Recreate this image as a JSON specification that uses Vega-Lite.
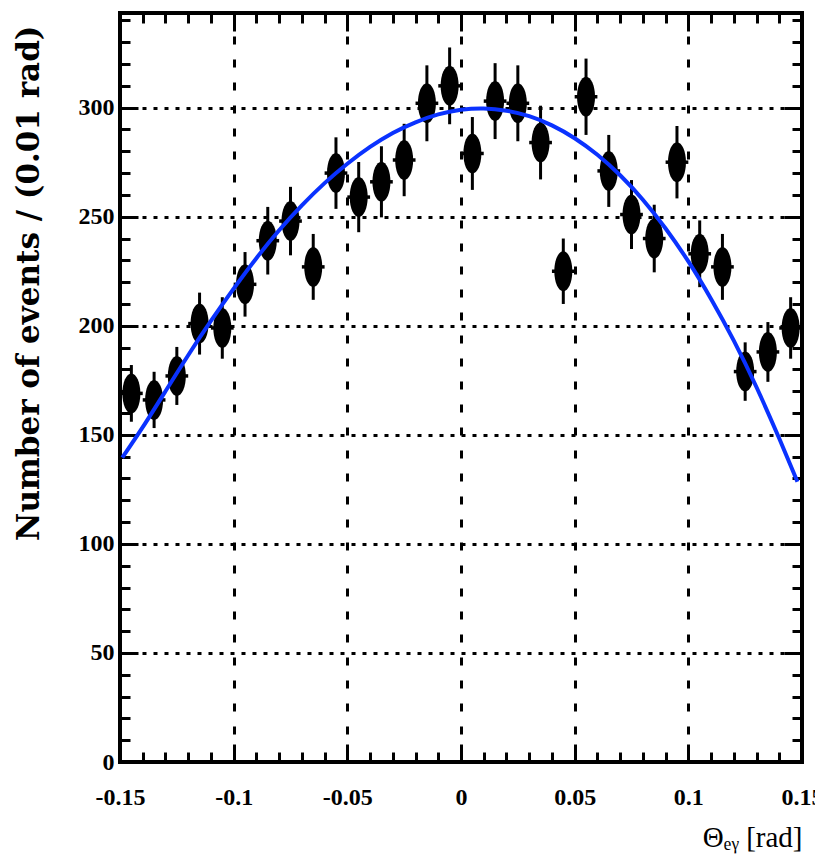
{
  "$schema": "https://vega.github.io/schema/vega-lite/v6.json",
  "width": 682,
  "height": 749,
  "autosize": {"type": "none"},
  "padding": {"left": 120, "top": 13, "right": 13, "bottom": 104},
  "background": "white",
  "config": {
    "view": {"stroke": "black", "strokeWidth": 4},
    "axis": {
      "domain": false,
      "tickColor": "black",
      "tickWidth": 3,
      "labelFont": "Liberation Serif",
      "labelFontWeight": "bold",
      "labelFontSize": 24,
      "labelColor": "black",
      "labelFlush": false,
      "labelOverlap": false,
      "labelBound": false,
      "gridColor": "black",
      "gridWidth": 3,
      "titleColor": "black"
    }
  },
  "datasets": {
    "hist": [
      {"theta": -0.145, "lo": -0.15, "hi": -0.14, "n": 169, "err": 13.0},
      {"theta": -0.135, "lo": -0.14, "hi": -0.13, "n": 166, "err": 12.9},
      {"theta": -0.125, "lo": -0.13, "hi": -0.12, "n": 177, "err": 13.3},
      {"theta": -0.115, "lo": -0.12, "hi": -0.11, "n": 201, "err": 14.2},
      {"theta": -0.105, "lo": -0.11, "hi": -0.10, "n": 199, "err": 14.1},
      {"theta": -0.095, "lo": -0.10, "hi": -0.09, "n": 219, "err": 14.8},
      {"theta": -0.085, "lo": -0.09, "hi": -0.08, "n": 239, "err": 15.5},
      {"theta": -0.075, "lo": -0.08, "hi": -0.07, "n": 248, "err": 15.7},
      {"theta": -0.065, "lo": -0.07, "hi": -0.06, "n": 227, "err": 15.1},
      {"theta": -0.055, "lo": -0.06, "hi": -0.05, "n": 270, "err": 16.4},
      {"theta": -0.045, "lo": -0.05, "hi": -0.04, "n": 259, "err": 16.1},
      {"theta": -0.035, "lo": -0.04, "hi": -0.03, "n": 266, "err": 16.3},
      {"theta": -0.025, "lo": -0.03, "hi": -0.02, "n": 276, "err": 16.6},
      {"theta": -0.015, "lo": -0.02, "hi": -0.01, "n": 302, "err": 17.4},
      {"theta": -0.005, "lo": -0.01, "hi": 0.0, "n": 310, "err": 17.6},
      {"theta": 0.005, "lo": 0.0, "hi": 0.01, "n": 279, "err": 16.7},
      {"theta": 0.015, "lo": 0.01, "hi": 0.02, "n": 303, "err": 17.4},
      {"theta": 0.025, "lo": 0.02, "hi": 0.03, "n": 302, "err": 17.4},
      {"theta": 0.035, "lo": 0.03, "hi": 0.04, "n": 284, "err": 16.9},
      {"theta": 0.045, "lo": 0.04, "hi": 0.05, "n": 225, "err": 15.0},
      {"theta": 0.055, "lo": 0.05, "hi": 0.06, "n": 305, "err": 17.5},
      {"theta": 0.065, "lo": 0.06, "hi": 0.07, "n": 271, "err": 16.5},
      {"theta": 0.075, "lo": 0.07, "hi": 0.08, "n": 251, "err": 15.8},
      {"theta": 0.085, "lo": 0.08, "hi": 0.09, "n": 240, "err": 15.5},
      {"theta": 0.095, "lo": 0.09, "hi": 0.10, "n": 275, "err": 16.6},
      {"theta": 0.105, "lo": 0.10, "hi": 0.11, "n": 233, "err": 15.3},
      {"theta": 0.115, "lo": 0.11, "hi": 0.12, "n": 227, "err": 15.1},
      {"theta": 0.125, "lo": 0.12, "hi": 0.13, "n": 179, "err": 13.4},
      {"theta": 0.135, "lo": 0.13, "hi": 0.14, "n": 188, "err": 13.7},
      {"theta": 0.145, "lo": 0.14, "hi": 0.15, "n": 199, "err": 14.1}
    ],
    "fit": [
      {"theta": -0.149, "f": 139.5},
      {"theta": -0.14, "f": 153.5},
      {"theta": -0.13, "f": 170.0},
      {"theta": -0.12, "f": 186.5},
      {"theta": -0.11, "f": 202.2},
      {"theta": -0.10, "f": 217.0},
      {"theta": -0.09, "f": 231.0},
      {"theta": -0.08, "f": 243.8},
      {"theta": -0.07, "f": 255.2},
      {"theta": -0.06, "f": 265.4},
      {"theta": -0.05, "f": 274.3},
      {"theta": -0.04, "f": 282.0},
      {"theta": -0.03, "f": 288.4},
      {"theta": -0.02, "f": 293.3},
      {"theta": -0.01, "f": 296.9},
      {"theta": 0.0, "f": 299.0},
      {"theta": 0.01, "f": 299.6},
      {"theta": 0.02, "f": 298.6},
      {"theta": 0.03, "f": 296.1},
      {"theta": 0.04, "f": 291.9},
      {"theta": 0.05, "f": 286.0},
      {"theta": 0.06, "f": 278.4},
      {"theta": 0.07, "f": 269.0},
      {"theta": 0.08, "f": 257.8},
      {"theta": 0.09, "f": 244.6},
      {"theta": 0.10, "f": 229.5},
      {"theta": 0.11, "f": 212.3},
      {"theta": 0.12, "f": 193.2},
      {"theta": 0.13, "f": 171.8},
      {"theta": 0.14, "f": 148.3},
      {"theta": 0.148, "f": 128.5}
    ]
  },
  "resolve": {"axis": {"x": "independent", "y": "independent"}},
  "layer": [
    {
      "data": {"name": "hist"},
      "mark": {"type": "errorbar", "color": "black", "thickness": 3, "ticks": false},
      "encoding": {
        "x": {"field": "theta", "type": "quantitative", "scale": {"domain": [-0.15, 0.15], "nice": false, "zero": false}, "axis": null},
        "y": {"field": "n", "type": "quantitative", "scale": {"domain": [0, 343.4], "nice": false}, "axis": null},
        "yError": {"field": "err"}
      }
    },
    {
      "data": {"name": "hist"},
      "mark": {"type": "rule", "color": "black", "strokeWidth": 3.5},
      "encoding": {
        "x": {"field": "lo", "type": "quantitative", "scale": {"domain": [-0.15, 0.15], "nice": false, "zero": false}, "axis": null},
        "x2": {"field": "hi"},
        "y": {"field": "n", "type": "quantitative", "scale": {"domain": [0, 343.4], "nice": false}, "axis": null}
      }
    },
    {
      "data": {"name": "hist"},
      "mark": {
        "type": "point",
        "filled": true,
        "opacity": 1,
        "color": "black",
        "size": 1600,
        "shape": "M0,-1C0.25,-1 0.45,-0.552 0.45,0C0.45,0.552 0.25,1 0,1C-0.25,1 -0.45,0.552 -0.45,0C-0.45,-0.552 -0.25,-1 0,-1Z"
      },
      "encoding": {
        "x": {
          "field": "theta", "type": "quantitative",
          "scale": {"domain": [-0.15, 0.15], "nice": false, "zero": false},
          "axis": {
            "orient": "bottom",
            "values": [-0.15, -0.14, -0.13, -0.12, -0.11, -0.1, -0.09, -0.08, -0.07, -0.06, -0.05, -0.04, -0.03, -0.02, -0.01, 0, 0.01, 0.02, 0.03, 0.04, 0.05, 0.06, 0.07, 0.08, 0.09, 0.1, 0.11, 0.12, 0.13, 0.14, 0.15],
            "tickSize": {"condition": {"test": "abs(round(datum.value * 100)) % 5 == 0", "value": -18}, "value": -10},
            "labelExpr": "abs(round(datum.value * 100)) % 5 == 0 ? '' + round(datum.value * 100) / 100 : ''",
            "labelPadding": 41,
            "grid": true,
            "gridDash": [8, 15],
            "gridOpacity": {"condition": {"test": "abs(round(datum.value * 100)) % 5 == 0", "value": 1}, "value": 0},
            "title": "Θₑᵧ [rad]",
            "titleFont": "Liberation Serif",
            "titleFontWeight": "normal",
            "titleFontSize": 29,
            "titleAnchor": "end",
            "titlePadding": 6
          }
        },
        "y": {
          "field": "n", "type": "quantitative",
          "scale": {"domain": [0, 343.4], "nice": false},
          "axis": {
            "orient": "left",
            "values": [0, 10, 20, 30, 40, 50, 60, 70, 80, 90, 100, 110, 120, 130, 140, 150, 160, 170, 180, 190, 200, 210, 220, 230, 240, 250, 260, 270, 280, 290, 300, 310, 320, 330, 340],
            "tickSize": {"condition": {"test": "datum.value % 50 == 0", "value": -18}, "value": -10},
            "labelExpr": "datum.value % 50 == 0 ? '' + datum.value : ''",
            "labelPadding": 24,
            "grid": true,
            "gridDash": [4, 7],
            "gridOpacity": {"condition": {"test": "datum.value % 50 == 0", "value": 1}, "value": 0},
            "title": "Number of events / (0.01 rad)",
            "titleFont": "DejaVu Serif",
            "titleFontWeight": "bold",
            "titleFontSize": 31,
            "titleAnchor": "end",
            "titleY": 12,
            "titlePadding": 33
          }
        }
      }
    },
    {
      "data": {"name": "fit"},
      "mark": {"type": "line", "color": "#0a32ff", "strokeWidth": 4, "interpolate": "natural"},
      "encoding": {
        "x": {
          "field": "theta", "type": "quantitative",
          "scale": {"domain": [-0.15, 0.15], "nice": false, "zero": false},
          "axis": {
            "orient": "top",
            "values": [-0.15, -0.14, -0.13, -0.12, -0.11, -0.1, -0.09, -0.08, -0.07, -0.06, -0.05, -0.04, -0.03, -0.02, -0.01, 0, 0.01, 0.02, 0.03, 0.04, 0.05, 0.06, 0.07, 0.08, 0.09, 0.1, 0.11, 0.12, 0.13, 0.14, 0.15],
            "tickSize": {"condition": {"test": "abs(round(datum.value * 100)) % 5 == 0", "value": -18}, "value": -10},
            "labels": false,
            "grid": false,
            "title": null
          }
        },
        "y": {
          "field": "f", "type": "quantitative",
          "scale": {"domain": [0, 343.4], "nice": false},
          "axis": {
            "orient": "right",
            "values": [0, 10, 20, 30, 40, 50, 60, 70, 80, 90, 100, 110, 120, 130, 140, 150, 160, 170, 180, 190, 200, 210, 220, 230, 240, 250, 260, 270, 280, 290, 300, 310, 320, 330, 340],
            "tickSize": {"condition": {"test": "datum.value % 50 == 0", "value": -18}, "value": -10},
            "labels": false,
            "grid": false,
            "title": null
          }
        }
      }
    }
  ]
}
